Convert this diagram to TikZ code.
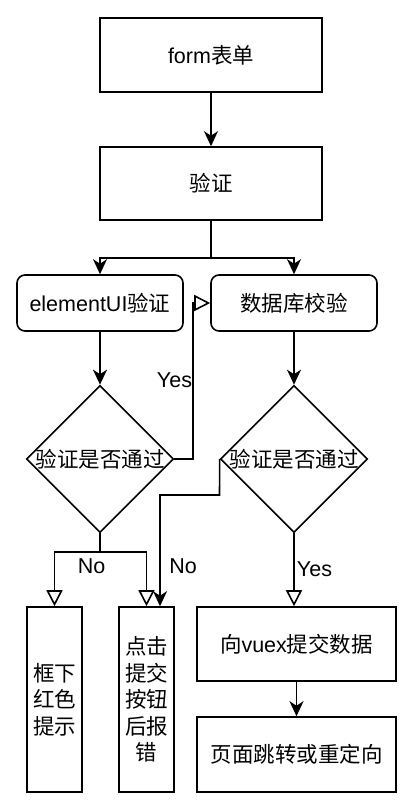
\documentclass[tikz,border=0pt]{standalone}
\usepackage{fontspec}
\setmainfont{Liberation Sans}
\newfontfamily\cjk{Noto Sans CJK SC}
\usetikzlibrary{shapes.geometric,arrows.meta}
\tikzset{
  base/.style={draw, line width=1.6pt, inner sep=0pt, align=center, font=\fontsize{21.5}{26.5}\selectfont},
  rbox/.style={base, rounded corners=8pt},
  dia/.style={base, diamond, minimum width=147pt, minimum height=147pt},
  txt/.style={inner sep=0pt, align=center, font=\fontsize{21.5}{26.5}\selectfont},
  cjktxt/.style={inner sep=0pt, align=center, font=\fontsize{21.5}{26.5}\selectfont\cjk},
  arr/.style={line width=1.6pt, -{Stealth[length=15pt,width=14pt,inset=4.5pt]}},
  oarr/.style={line width=1.6pt, -{Triangle[open,length=16pt,width=16pt,fill=white]}},
  ln/.style={line width=1.6pt}
}
\begin{document}
\begin{tikzpicture}[x=1pt,y=-1pt]
\useasboundingbox (0,0) rectangle (403,803);
\node[base, minimum width=222pt, minimum height=74pt] (form) at (211,55) {form{\cjk 表单}};
\node[base, minimum width=222pt, minimum height=73pt, font=\fontsize{21.5}{26.5}\selectfont\cjk] (verify) at (211,183.5) {验证};
\node[rbox, minimum width=166pt, minimum height=56pt] (elui) at (100,303) {elementUI{\cjk 验证}};
\node[rbox, minimum width=166pt, minimum height=56pt, font=\fontsize{21.5}{26.5}\selectfont\cjk] (db) at (294,303) {数据库校验};
\node[dia] (d1) at (100,459) {};
\node[cjktxt] (t1) at (d1.center) {验证是否通过};
\node[dia] (d2) at (294,459) {};
\node[cjktxt] (t2) at (d2.center) {验证是否通过};
\node[base, minimum width=55pt, minimum height=185pt, font=\fontsize{21.5}{26.5}\selectfont\cjk] (bx1) at (54.5,699.5) {框下\\红色\\提示};
\node[base, minimum width=55pt, minimum height=185pt, font=\fontsize{21.5}{26.5}\selectfont\cjk] (bx2) at (146.5,699.5) {点击\\提交\\按钮\\后报\\错};
\node[base, minimum width=199pt, minimum height=74pt] (vuex) at (296.5,644) {{\cjk 向}vuex{\cjk 提交数据}};
\node[base, minimum width=199pt, minimum height=75pt, font=\fontsize{21.5}{26.5}\selectfont\cjk] (page) at (296.5,754.5) {页面跳转或重定向};

\coordinate (j1) at (211,258);
\coordinate (j2) at (100,552);
\coordinate (k1) at (219.5,495);

\draw[arr] (form) -- (verify);
\draw[ln] (verify) -- (j1);
\draw[arr] (j1) -| (elui.north);
\draw[arr] (j1) -| (db.north);
\draw[arr] (elui) -- (d1);
\draw[arr] (db) -- (d2);
\draw[oarr] (d1.east) -- ++(18.5,0) |- (db.west);
\node[txt] (yes1) at (174.5,380) {Yes};
\draw[arr] (d2.west) -- (k1) -| ([xshift=13.5pt]bx2.north);
\node[txt] (no2) at (183,566) {No};
\draw[ln] (d1.south) -- (j2);
\draw[oarr] (j2) -| (bx1.north);
\draw[oarr] (j2) -| (bx2.north);
\node[txt] (no1) at (91.5,566) {No};
\draw[oarr] (d2.south) -- (d2.south |- vuex.north);
\node[txt] (yes2) at (314.5,569) {Yes};
\draw[arr] (vuex) -- (page);
\end{tikzpicture}
\end{document}
